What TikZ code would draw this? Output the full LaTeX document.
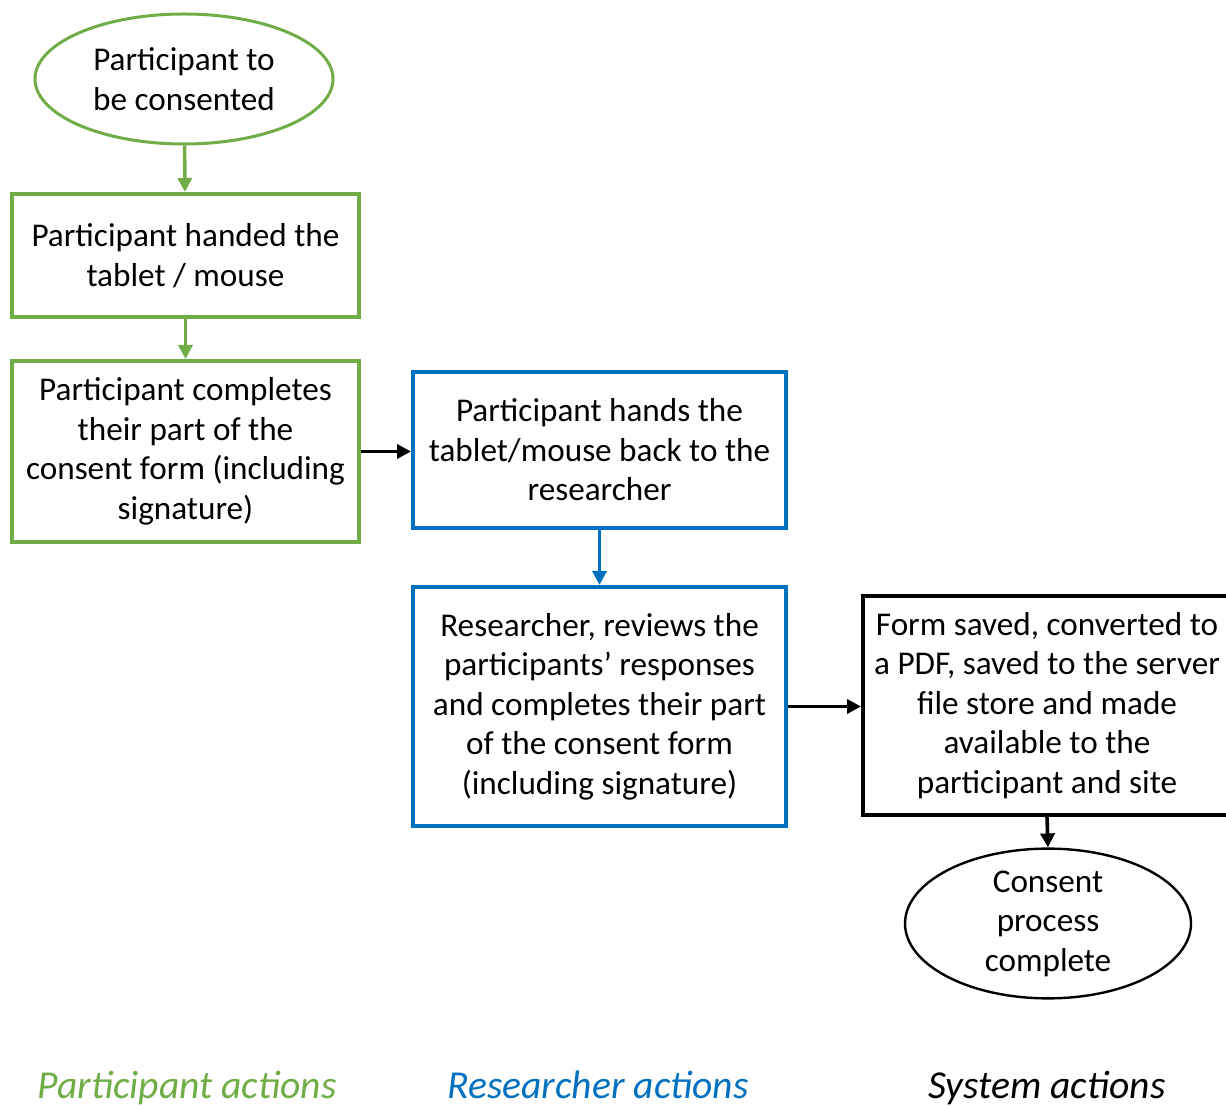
\documentclass[tikz,border=0pt]{standalone}
\usepackage{fontspec}
\setmainfont{Carlito}
\usetikzlibrary{shapes.geometric,arrows.meta}
\definecolor{partgreen}{RGB}{112,173,71}
\definecolor{resblue}{RGB}{0,112,192}
\tikzset{
	stepbox/.style={draw, line width=2pt, align=center, inner sep=0pt,
		font=\fontsize{16.6}{19.75}\selectfont},
	terminal/.style={ellipse, draw, align=center, inner sep=0pt,
		font=\fontsize{16.6}{19.75}\selectfont},
	flow/.style={line width=1.8pt, -{Triangle[length=7pt,width=7pt]}},
	legend/.style={anchor=base, font=\fontsize{19.8}{22}\selectfont\itshape}
}
\begin{document}
\begin{tikzpicture}[x=0.5pt, y=-0.5pt]
	\useasboundingbox (0,0) rectangle (1226,1106);
	%participant
	\node[terminal, partgreen, line width=1.5pt, text=black, minimum width=149pt, minimum height=65pt]
	(start) at (184,79) {Participant to\\be consented};
	\node[stepbox, partgreen, text=black, minimum width=173.5pt, minimum height=61.5pt]
	(handed) at (185.5,255.5) {Participant handed the\\tablet / mouse};
	\node[stepbox, partgreen, text=black, minimum width=173.5pt, minimum height=90.5pt]
	(completes) at (185.5,451.5) {Participant completes\\their part of the\\consent form (including\\signature)};
	%researcher
	\node[stepbox, resblue, text=black, minimum width=186.5pt, minimum height=78pt]
	(handback) at (599.5,450) {Participant hands the\\tablet/mouse back to the\\researcher};
	\node[stepbox, resblue, text=black, minimum width=186.5pt, minimum height=119.5pt]
	(reviews) at (599.5,706.5) {Researcher, reviews the\\participants’ responses\\and completes their part\\of the consent form\\(including signature)};
	%system
	\node[stepbox, black, minimum width=184pt, minimum height=109.5pt]
	(saved) at (1047,705.5) {Form saved, converted to\\a PDF, saved to the server\\file store and made\\available to the\\participant and site};
	\node[terminal, line width=1.2pt, minimum width=143pt, minimum height=65.5pt]
	(finish) at (1048,923.5) {Consent\\process\\complete};
	%arrows
	\draw[flow, partgreen] (start) -- (handed);
	\draw[flow, partgreen] (handed) -- (completes);
	\draw[flow, black] (completes.east) -- (handback.west |- completes.east);
	\draw[flow, resblue] (handback) -- (reviews);
	\draw[flow, black] (reviews.east) -- (saved.west |- reviews.east);
	\draw[flow, black] (saved.south) -- (finish.north);
	%legend
	\node[legend, text=partgreen] (partlabel) at (187,1098) {Participant actions};
	\node[legend, text=resblue] (reslabel) at (598,1098) {Researcher actions};
	\node[legend, text=black] (syslabel) at (1047,1098) {System actions};
\end{tikzpicture}
\end{document}
